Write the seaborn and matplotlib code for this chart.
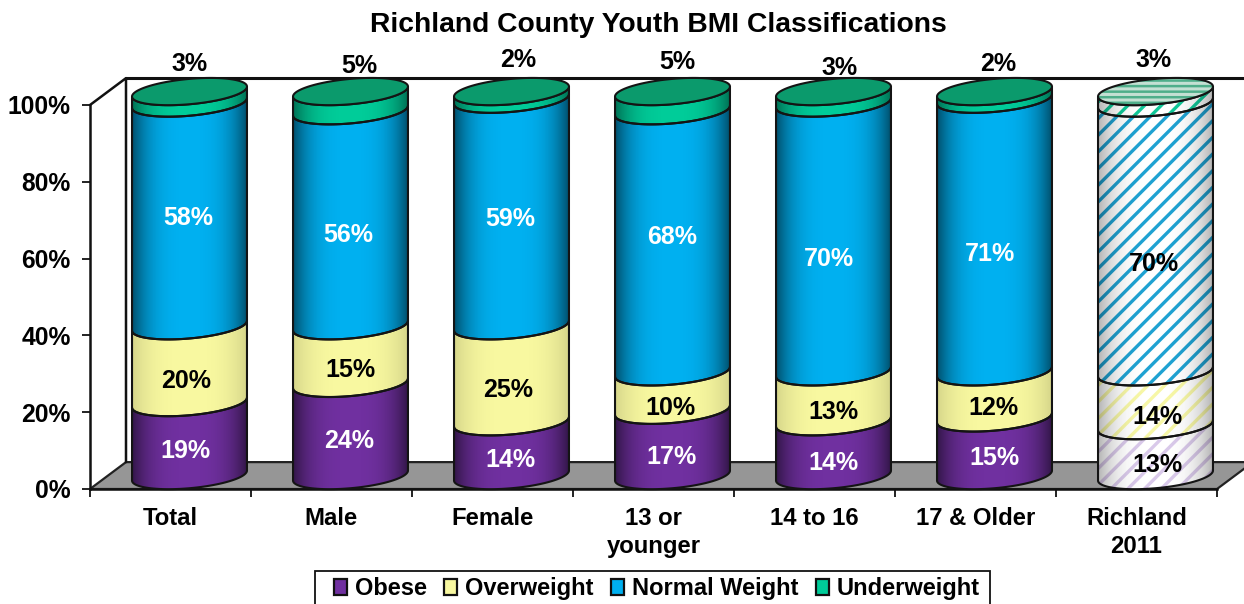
# Richland County Youth BMI - stacked 3D style cylinders
import numpy as np
import matplotlib
matplotlib.use("Agg")
import matplotlib.pyplot as plt
import seaborn as sns
from matplotlib.patches import Patch, Polygon, Rectangle
from matplotlib.path import Path
from matplotlib.transforms import Affine2D

# data
categories = ["Total", "Male", "Female", "13 or\nyounger", "14 to 16", "17 & Older", "Richland\n2011"]
obese = [19, 24, 14, 17, 14, 15, 13]
overweight = [20, 15, 25, 10, 13, 12, 14]
normal = [58, 56, 59, 68, 70, 71, 70]
underweight = [3, 5, 2, 5, 3, 2, 3]
series_names = ["Obese", "Overweight", "Normal Weight", "Underweight"]
y_ticks = [0, 20, 40, 60, 80, 100]
y_tick_labels = ["0%", "20%", "40%", "60%", "80%", "100%"]

# styles
colors = ["#7030A0", "#F8F8A0", "#00B0F0", "#00CC99"]
stripe_colors = ["#D9C9EA", "#F7F7A6", "#1FA2D2", "#10C898"]
shade_strength = [0.55, 0.14, 0.55, 0.45]
top_green = "#0B9A6C"

# label centres, in pixels
label_x = [[185, 349, 510, 671, 833, 994, 1157],
           [186, 350, 508, 670, 833, 993, 1157],
           [188, 348, 510, 672, 829, 990, 1154],
           [190, 359, 518, 677, 840, 998, 1154]]
label_y = [[450, 440, 459, 456, 462, 457, 464],
           [380, 369, 389, 407, 411, 407, 416],
           [217, 234, 218, 236, 258, 253, 263],
           [63, 65, 59, 61, 67, 63, 59]]

W, H = 1244, 604
sns.set_theme(style="white")
plt.rcParams["font.family"] = ["Liberation Sans", "DejaVu Sans"]
plt.rcParams["font.weight"] = "bold"
plt.rcParams["hatch.linewidth"] = 2.4

fig = plt.figure(figsize=(W / 100, H / 100), dpi=100)
ax = fig.add_axes([90 / W, (H - 489) / H, (1217 - 90) / W, (489 - 105) / H])
ax.patch.set_alpha(0)
pix = Affine2D().scale(1 / W, -1 / H).translate(0, 1) + fig.transFigure

# let seaborn lay out the stacked bars, the cylinders are built on their geometry
stack = [obese, overweight, normal, underweight]
bottom = np.zeros(len(categories))
for vals, col in zip(stack, colors):
    sns.barplot(x=categories, y=vals, bottom=bottom, color=col, width=0.714,
                saturation=1, ax=ax, zorder=1)
    bottom = bottom + np.array(vals)

bars = [list(c) for c in ax.containers]
ax.set_xlim(-0.5, 6.5)
ax.set_ylim(0, 100)

# 3D depth of the chart box, in data units
DX, DY = 36 / 161, 7.0
TILT, MINOR = 1.3, 3.3


def front_arc(cx, cy, half, n=60, reverse=False):
    t = np.linspace(np.pi, 2 * np.pi, n)
    if reverse:
        t = t[::-1]
    return np.c_[cx + half * np.cos(t), cy + TILT * np.cos(t) + MINOR * np.sin(t)]


def full_ellipse(cx, cy, half, n=120):
    t = np.linspace(0, 2 * np.pi, n)
    return np.c_[cx + half * np.cos(t), cy + TILT * np.cos(t) + MINOR * np.sin(t)]


# floor and walls
floor = Polygon([(-0.5, 0), (6.5, 0), (6.5 + DX, DY), (-0.5 + DX, DY)], closed=True,
                facecolor="#969696", edgecolor="#222222", lw=1.6, clip_on=False, zorder=1)
ax.add_patch(floor)
ax.plot([-0.5, -0.5 + DX, -0.5 + DX], [100, 100 + DY, DY], color="#111111", lw=1.8,
        clip_on=False, zorder=1.5)
ax.plot([-0.5 + DX, 6.5 + DX], [100 + DY, 100 + DY], color="#111111", lw=2.2,
        clip_on=False, zorder=1.5)

u = np.linspace(-1, 1, 200)

for i in range(len(categories)):
    striped = i == len(categories) - 1
    z = 3 + i
    outline = []
    for j, col in enumerate(colors):
        bar = bars[j][i]
        half = bar.get_width() / 2
        cx = bar.get_x() + half + DX / 2 + 1 / 161
        y0 = bar.get_y() + DY / 2
        y1 = y0 + bar.get_height()
        pts = np.r_[front_arc(cx, y1, half), front_arc(cx, y0, half, reverse=True)]
        if striped:
            ax.add_patch(Polygon(pts, closed=True, facecolor="white", edgecolor=stripe_colors[j],
                                 hatch="//", lw=0, clip_on=False, zorder=z))
        else:
            ax.add_patch(Polygon(pts, closed=True, facecolor=col, lw=0, clip_on=False, zorder=z))
        outline.append(pts)

        # edge shading, clipped to this segment
        shade = np.zeros((1, 200, 4))
        strength = 0.3 if striped else shade_strength[j]
        shade[0, :, 3] = strength * np.abs(u) ** 3
        im = ax.imshow(shade, extent=[cx - half, cx + half, 0, 110], aspect="auto",
                       zorder=z + 0.1, interpolation="bilinear")
        im.set_clip_box(fig.bbox)
        im.set_clip_path(Path(np.r_[pts, pts[:1]]), ax.transData)

    for pts in outline:
        ax.add_patch(Polygon(pts, closed=True, fill=False, edgecolor="#141414", lw=1.5,
                             clip_on=False, zorder=z + 0.2))
    lid = full_ellipse(cx, y1, half)
    if striped:
        plt.rcParams["hatch.linewidth"] = 1.8
        ax.add_patch(Polygon(lid, closed=True, facecolor="#C4E0D3", edgecolor="#4FAE8A",
                             hatch="---", lw=0, clip_on=False, zorder=z + 0.3))
        ax.add_patch(Polygon(lid, closed=True, fill=False, edgecolor="#141414", lw=1.5,
                             clip_on=False, zorder=z + 0.4))
    else:
        ax.add_patch(Polygon(lid, closed=True, facecolor=top_green, edgecolor="#141414", lw=1.5,
                             clip_on=False, zorder=z + 0.4))

# the flat seaborn bars have done their job
for row in bars:
    for bar in row:
        bar.set_visible(False)

# axes
sns.despine(ax=ax, top=True, right=True)
for side in ["left", "bottom"]:
    ax.spines[side].set_color("#111111")
    ax.spines[side].set_linewidth(1.8)
    ax.spines[side].set_zorder(2)
ax.set_yticks(y_ticks, y_tick_labels)
ax.set_xticks(range(len(categories)), categories)
ax.set_xticks(np.arange(-0.5, 7, 1), minor=True)
ax.tick_params(axis="y", length=6, width=1.3, color="#111111", labelsize=17.7, pad=8, left=True)
ax.tick_params(axis="x", which="major", length=0, labelsize=17.2, pad=13)
ax.tick_params(axis="x", which="minor", length=6, width=1.3, color="#111111", bottom=True)
for lab in ax.get_yticklabels() + ax.get_xticklabels():
    lab.set_fontweight("bold")
    lab.set_color("black")
for lab in ax.get_xticklabels():
    lab.set_linespacing(1.3)
ax.set_xlabel("")
ax.set_ylabel("")

# data labels
for j, vals in enumerate(stack):
    for i, v in enumerate(vals):
        col = "white" if j in (0, 2) and i < 6 else "black"
        ax.text(label_x[j][i], label_y[j][i] + 1, f"{v}%", transform=pix, ha="center", va="center",
                fontsize=18, fontweight="bold", color=col, zorder=30)

fig.text(658 / W, 1 - 24.5 / H, "Richland County Youth BMI Classifications", ha="center",
         va="center", fontsize=20.3, fontweight="bold", color="black")

# legend frame runs off the bottom edge of the picture
fig.add_artist(Rectangle((315, 571), 675, 50, transform=pix, facecolor="white",
                         edgecolor="#111111", lw=1.3))
handles = [Patch(facecolor=c, edgecolor="#111111", lw=1.6) for c in colors]
leg = fig.legend(handles, series_names, ncol=4, loc="upper left",
                 bbox_to_anchor=(334 / W, 1 - 577 / H), frameon=False, fontsize=17,
                 labelcolor="black", handlelength=0.55, handleheight=0.65, handletextpad=0.35,
                 columnspacing=0.72, borderpad=0, borderaxespad=0)
leg.set_zorder(5)

fig.savefig("out.png", dpi=100, facecolor="white")
